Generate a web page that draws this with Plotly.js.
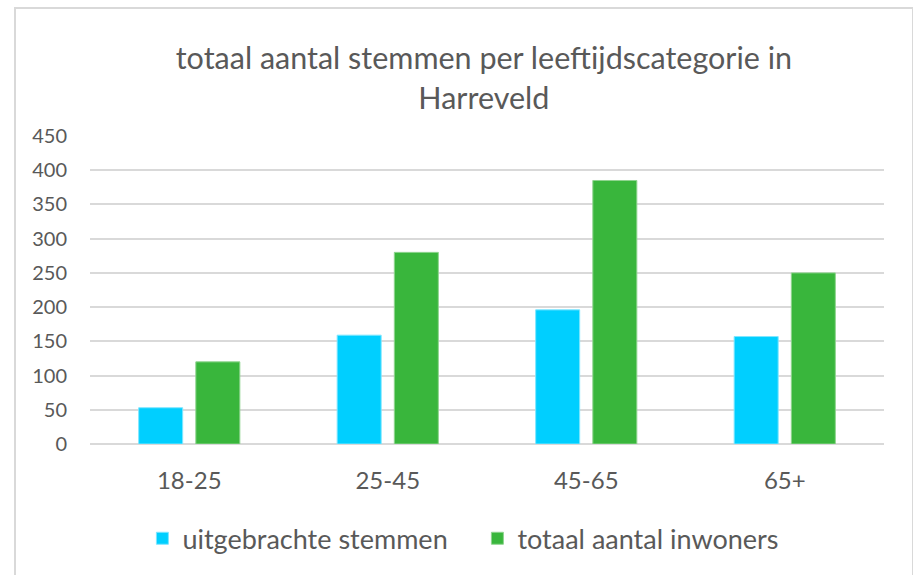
<!DOCTYPE html>
<html>
<head>
<meta charset="utf-8">
<script src="https://cdn.plot.ly/plotly-3.0.1.min.js"></script>
<style>
  html, body { margin: 0; padding: 0; background: #ffffff; }
  #chart { position: absolute; left: 0; top: 0; width: 913px; height: 575px; }
  #frame { position: absolute; left: 14px; top: 7px; width: 896px; height: 600px;
           border: 2px solid #d9d9d9; pointer-events: none; }
</style>
</head>
<body>
<div id="chart"></div>
<div id="frame"></div>
<script>
const categories = ["18-25", "25-45", "45-65", "65+"];
const seriesNames = ["uitgebrachte stemmen", "totaal aantal inwoners"];
const uitgebrachteStemmen = [53, 159, 196, 157];
const totaalAantalInwoners = [120, 280, 385, 250];
const yTicks = [0, 50, 100, 150, 200, 250, 300, 350, 400, 450];
const titleText = "totaal aantal stemmen per leeftijdscategorie in<br>Harreveld";

const fontFamily = "Lato, 'Open Sans', sans-serif";
const textColor = "#595959";

const traces = [
  {
    type: "bar",
    name: seriesNames[0],
    x: categories,
    y: uitgebrachteStemmen,
    marker: { color: "#00cfff", line: { color: "#7fe6ff", width: 1 } },
    hoverinfo: "x+y"
  },
  {
    type: "bar",
    name: seriesNames[1],
    x: categories,
    y: totaalAantalInwoners,
    marker: { color: "#39b63c", line: { color: "#8fd48f", width: 1 } },
    hoverinfo: "x+y"
  }
];

const layout = {
  width: 913,
  height: 575,
  margin: { l: 90, r: 29, t: 136, b: 131, autoexpand: false },
  paper_bgcolor: "#ffffff",
  plot_bgcolor: "#ffffff",
  font: { family: fontFamily, color: textColor, size: 18 },
  title: {
    text: titleText,
    font: { family: fontFamily, size: 30.5, color: textColor },
    x: 0.530,
    xanchor: "center",
    y: 0.880,
    yanchor: "top"
  },
  barmode: "group",
  bargap: 0.424,
  bargroupgap: 0.23,
  xaxis: {
    type: "category",
    automargin: false,
    tickfont: { family: fontFamily, size: 24, color: textColor },
    showgrid: false,
    showline: false,
    zeroline: false,
    ticks: "",
    ticklabelstandoff: 20
  },
  yaxis: {
    range: [0, 450],
    automargin: false,
    tickvals: yTicks,
    ticktext: yTicks.map(String),
    tickfont: { family: fontFamily, size: 20, color: textColor },
    showgrid: true,
    gridcolor: "#d9d9d9",
    gridwidth: 2,
    zeroline: true,
    zerolinecolor: "#d9d9d9",
    zerolinewidth: 2,
    showline: false,
    ticks: "",
    ticklabelstandoff: 22
  },
  legend: {
    orientation: "h",
    x: 0.066,
    xanchor: "left",
    y: -0.228,
    yanchor: "top",
    font: { family: fontFamily, size: 27, color: textColor },
    itemwidth: 30,
    entrywidth: 290,
    entrywidthmode: "pixels",
    traceorder: "normal"
  },
  showlegend: true
};

Plotly.newPlot("chart", traces, layout, { displayModeBar: false, staticPlot: true });
</script>
</body>
</html>
